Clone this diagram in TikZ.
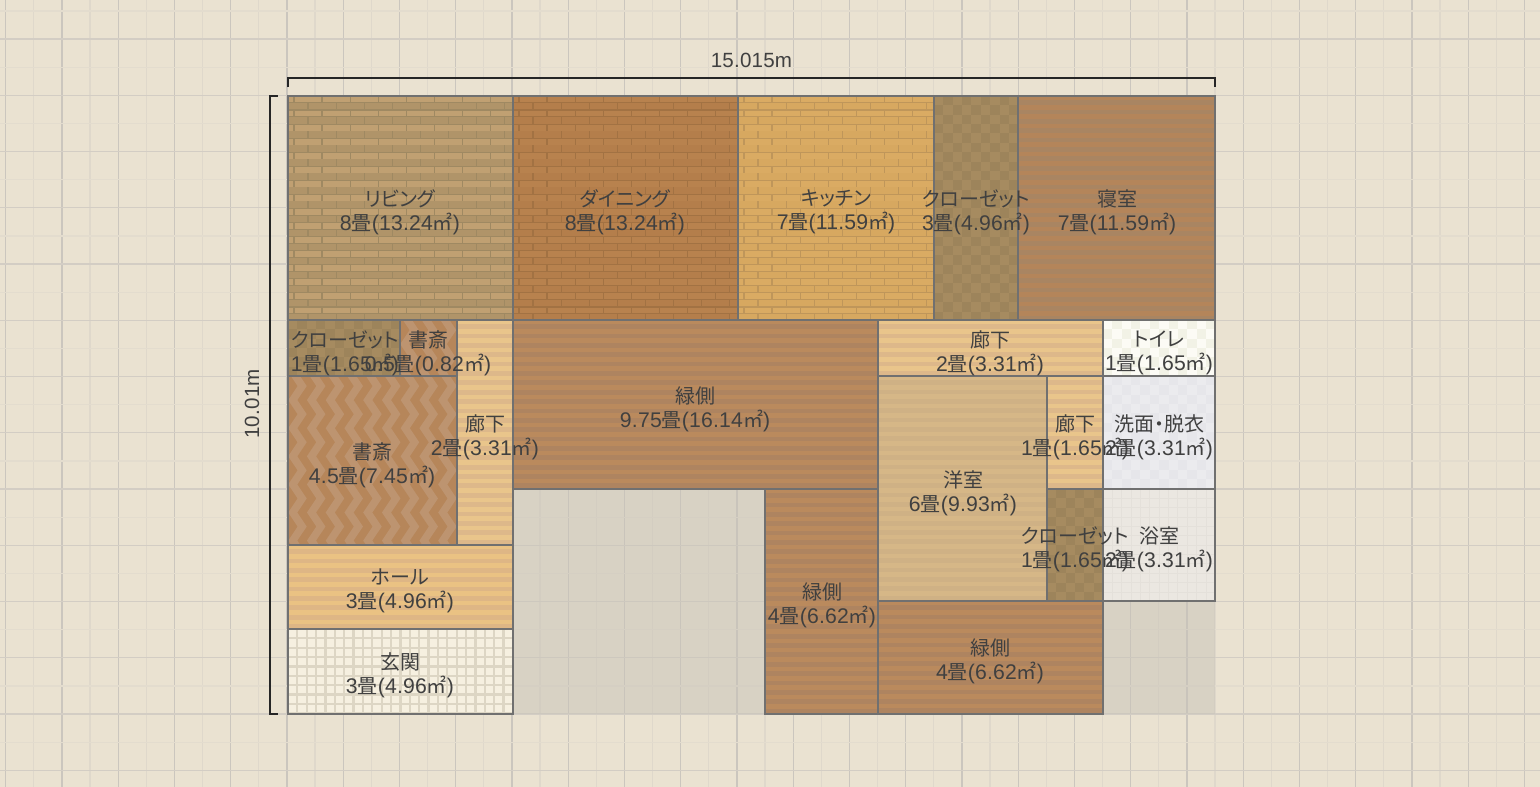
\documentclass[tikz,border=0pt]{standalone}
\usepackage{fontspec}
\setmainfont[Scale=1.06,LetterSpace=1]{Liberation Sans}
\newfontfamily\cjk[RawFeature=+palt]{Noto Sans CJK JP}
\newfontfamily\cjkfull{Noto Sans CJK JP}
\newcommand\jo{{\cjkfull 畳}}
\newcommand\sqm{{\cjkfull ㎡}}
\definecolor{paper}{HTML}{EAE2D1}
\definecolor{gridmajv}{HTML}{CBC6BE}
\definecolor{gridmajh}{HTML}{D3CDC4}
\definecolor{gridminv}{HTML}{DFD8CB}
\definecolor{gridminh}{HTML}{E3DCCE}
\definecolor{outside}{HTML}{C8C4B9}
\definecolor{wall}{HTML}{707070}
\definecolor{ink}{HTML}{404040}
\tikzset{
  wallline/.style={draw=wall,line width=2pt,fill=none},
  dimline/.style={draw=black!85,line width=2pt,line cap=butt},
  lab/.style={text=ink,align=center,inner sep=0pt,yshift=-2pt,font=\fontsize{20}{24}\selectfont},
  dimlab/.style={text=ink,inner sep=0pt,font=\fontsize{19.4}{24}\selectfont},
}
% #1..#4 = x1,y1,x2,y2
\newcommand\boxoutline[4]{\draw[wallline] (#1,#2) rectangle (#3,#4);}
\newcommand\stripes[6]{%
  \definecolor{ca}{HTML}{#5}\definecolor{cb}{HTML}{#6}%
  \begin{scope}
    \clip (#1,#2) rectangle (#3,#4);
    \fill[ca] (#1,#2) rectangle (#3,#4);
    \pgfmathtruncatemacro\nn{(#4-#2)/9.37+1}
    \foreach \i in {0,...,\nn}{
      \fill[cb] (#1,{#2+\i*9.37+4.2}) rectangle (#3,{#2+\i*9.37+9.0});
    }
  \end{scope}
  \boxoutline{#1}{#2}{#3}{#4}}
\newcommand\bricks[7]{% c1 light row, c2 dark row, c3 mortar
  \definecolor{ca}{HTML}{#5}\definecolor{cb}{HTML}{#6}\definecolor{cc}{HTML}{#7}%
  \begin{scope}
    \clip (#1,#2) rectangle (#3,#4);
    \fill[ca] (#1,#2) rectangle (#3,#4);
    \pgfmathtruncatemacro\nn{(#4-#2)/7.03+1}
    \pgfmathtruncatemacro\mm{(#3-#1)/28.1+1}
    \foreach \rr in {0,...,\nn}{
      \pgfmathsetmacro\yy{#2+\rr*7.03}
      \pgfmathtruncatemacro\odd{mod(\rr,2)}
      \ifnum\odd=1
        \fill[cb] (#1,\yy) rectangle (#3,\yy+7.03);
      \fi
      \draw[cc,line width=1.2pt] (#1,\yy+7.03) -- (#3,\yy+7.03);
      \pgfmathsetmacro\off{\odd==1 ? 20 : 5.9}
      \foreach \kk in {0,...,\mm}{
        \draw[cc,line width=1.2pt] ({#1+\off+\kk*28.1},\yy) -- ++(0,7.03);
      }
    }
  \end{scope}
  \boxoutline{#1}{#2}{#3}{#4}}
\newcommand\checks[7]{% #7 cell
  \definecolor{ca}{HTML}{#5}\definecolor{cb}{HTML}{#6}%
  \begin{scope}
    \clip (#1,#2) rectangle (#3,#4);
    \fill[ca] (#1,#2) rectangle (#3,#4);
    \pgfmathtruncatemacro\nn{(#4-#2)/#7+1}
    \pgfmathtruncatemacro\mm{(#3-#1)/#7+1}
    \foreach \rr in {0,...,\nn}{
      \foreach \kk in {0,...,\mm}{
        \pgfmathtruncatemacro\odd{mod(\rr+\kk,2)}
        \ifnum\odd=1
          \fill[cb] ({#1+\kk*#7},{#2+\rr*#7}) rectangle ++(#7,#7);
        \fi
      }
    }
  \end{scope}
  \boxoutline{#1}{#2}{#3}{#4}}
\newcommand\tiles[8]{% #7 cell, #8 line width
  \definecolor{ca}{HTML}{#5}\definecolor{cb}{HTML}{#6}%
  \begin{scope}
    \clip (#1,#2) rectangle (#3,#4);
    \fill[ca] (#1,#2) rectangle (#3,#4);
    \pgfmathtruncatemacro\nn{(#4-#2)/#7+1}
    \pgfmathtruncatemacro\mm{(#3-#1)/#7+1}
    \foreach \rr in {0,...,\nn}{
      \draw[cb,line width=#8] (#1,{#2+\rr*#7}) -- (#3,{#2+\rr*#7});
    }
    \foreach \kk in {0,...,\mm}{
      \draw[cb,line width=#8] ({#1+\kk*#7},#2) -- ({#1+\kk*#7},#4);
    }
  \end{scope}
  \boxoutline{#1}{#2}{#3}{#4}}
\newcommand\chevron[6]{%
  \definecolor{ca}{HTML}{#5}\definecolor{cb}{HTML}{#6}%
  \begin{scope}
    \clip (#1,#2) rectangle (#3,#4);
    \fill[ca] (#1,#2) rectangle (#3,#4);
    \pgfmathtruncatemacro\mm{(#3-#1)/18.75+2}
    \pgfmathtruncatemacro\nn{(#4-#2)/14.05+2}
    \foreach \kk in {0,...,\mm}{
      \pgfmathsetmacro\xx{#1-14+\kk*18.75}
      \draw[cb,line width=7.6pt,line join=miter] (\xx,#2-14)
        \foreach \jj in {0,...,\nn}{ -- ({\xx+mod(\jj,2)*9.4},{#2-4+\jj*14.05}) };
    }
  \end{scope}
  \boxoutline{#1}{#2}{#3}{#4}}
\begin{document}
\begin{tikzpicture}[x=1pt,y=-1pt]
\useasboundingbox (0,0) rectangle (1540,787);
\fill[paper] (0,0) rectangle (1540,787);
% grid
\foreach \i in {0,...,27}{
  \draw[gridmajv,line width=1.4pt] ({5.7+\i*56.25},0) -- ({5.7+\i*56.25},787);
  \draw[gridminv,line width=1.2pt] ({33.8+\i*56.25},0) -- ({33.8+\i*56.25},787);
}
\foreach \i in {0,...,14}{
  \draw[gridmajh,line width=1.4pt] (0,{39+\i*56.25}) -- (1540,{39+\i*56.25});
  \draw[gridminh,line width=1.2pt] (0,{10.9+\i*56.25}) -- (1540,{10.9+\i*56.25});
}
% ground under the house
\fill[outside,opacity=.5] (513,489) rectangle (765,714);
\fill[outside,opacity=.5] (1103,601) rectangle (1215,714);
% top row
\bricks{288}{96}{513}{320}{C0A072}{B09469}{9F8962}
\bricks{513}{96}{738}{320}{B8824E}{B47E4B}{A27243}
\bricks{738}{96}{934}{320}{DAAB63}{D7A860}{BF965A}
\checks{934}{96}{1018}{320}{A68B60}{9D845B}{9.37}
\stripes{1018}{96}{1215}{320}{B4855A}{A98562}
% left block
\checks{288}{320}{400}{376}{A68B60}{9D845B}{9.37}
\chevron{400}{320}{457}{376}{B6865A}{BD9470}
\stripes{457}{320}{513}{545}{E9C58B}{DDB88A}
\chevron{288}{376}{457}{545}{B6865A}{BD9470}
\stripes{288}{545}{513}{629}{EAC283}{DEB685}
\tiles{288}{629}{513}{714}{F6F0E0}{DDD6C4}{9.37}{2.2pt}
% verandas
\stripes{513}{320}{878}{489}{BA8A5D}{AE8460}
\stripes{765}{489}{878}{714}{BA8A5D}{AE8460}
\stripes{878}{601}{1103}{714}{BA8A5D}{AE8460}
% right block
\stripes{878}{320}{1103}{376}{E9C58B}{DDB88A}
\checks{1103}{320}{1215}{376}{FCFBF5}{F2F2E6}{9.37}
\stripes{878}{376}{1047}{601}{D6B787}{CFB185}
\stripes{1047}{376}{1103}{489}{E9C58B}{DDB88A}
\checks{1047}{489}{1103}{601}{A68B60}{9D845B}{9.37}
\checks{1103}{376}{1215}{489}{EBEBEE}{E6E6EA}{9.37}
\tiles{1103}{489}{1215}{601}{EBE7E1}{E4E0DA}{9.37}{1pt}
% dimensions
\coordinate (tl) at (288,87); \coordinate (tla) at (288,78);
\coordinate (tr) at (1215,87); \coordinate (tra) at (1215,78);
\draw[dimline] (tl) -- (tla) -- (tra) -- (tr);
\coordinate (lt) at (278,96); \coordinate (lta) at (270,96);
\coordinate (lb) at (278,714); \coordinate (lba) at (270,714);
\draw[dimline] (lt) -- (lta) -- (lba) -- (lb);
\node[dimlab] (dimw) at (751.5,60.5) {15.015m};
\node[dimlab,rotate=90] (dimh) at (252,404) {10.01m};
% labels
\node[lab] (r1) at (400,210) {{\cjk リビング}\\8\jo(13.24\sqm)};
\node[lab] (r2) at (625,210) {{\cjk ダイニング}\\8\jo(13.24\sqm)};
\node[lab] (r3) at (836,210) {{\cjk キッチン}\\7\jo(11.59\sqm)};
\node[lab] (r4) at (976,210) {{\cjk クローゼット}\\3\jo(4.96\sqm)};
\node[lab] (r5) at (1117,210) {{\cjk 寝室}\\7\jo(11.59\sqm)};
\node[lab] (r6) at (345,351) {{\cjk クローゼット}\\1\jo(1.65\sqm)};
\node[lab] (r7) at (428,351) {{\cjk 書斎}\\0.5\jo(0.82\sqm)};
\node[lab] (r8) at (485,435) {{\cjk 廊下}\\2\jo(3.31\sqm)};
\node[lab] (r9) at (372,463) {{\cjk 書斎}\\4.5\jo(7.45\sqm)};
\node[lab] (r10) at (400,589) {{\cjk ホール}\\3\jo(4.96\sqm)};
\node[lab] (r11) at (400,673) {{\cjk 玄関}\\3\jo(4.96\sqm)};
\node[lab] (r12) at (695,407) {{\cjk 緑側}\\9.75\jo(16.14\sqm)};
\node[lab] (r13) at (822,603) {{\cjk 緑側}\\4\jo(6.62\sqm)};
\node[lab] (r14) at (990,659) {{\cjk 緑側}\\4\jo(6.62\sqm)};
\node[lab] (r15) at (990,351) {{\cjk 廊下}\\2\jo(3.31\sqm)};
\node[lab] (r16) at (1159,351) {{\cjk トイレ}\\1\jo(1.65\sqm)};
\node[lab] (r17) at (963,491) {{\cjk 洋室}\\6\jo(9.93\sqm)};
\node[lab] (r18) at (1075,435) {{\cjk 廊下}\\1\jo(1.65\sqm)};
\node[lab] (r19) at (1159,435) {{\cjk 洗面・脱衣}\\2\jo(3.31\sqm)};
\node[lab] (r20) at (1075,547) {{\cjk クローゼット}\\1\jo(1.65\sqm)};
\node[lab] (r21) at (1159,547) {{\cjk 浴室}\\2\jo(3.31\sqm)};
\end{tikzpicture}
\end{document}
